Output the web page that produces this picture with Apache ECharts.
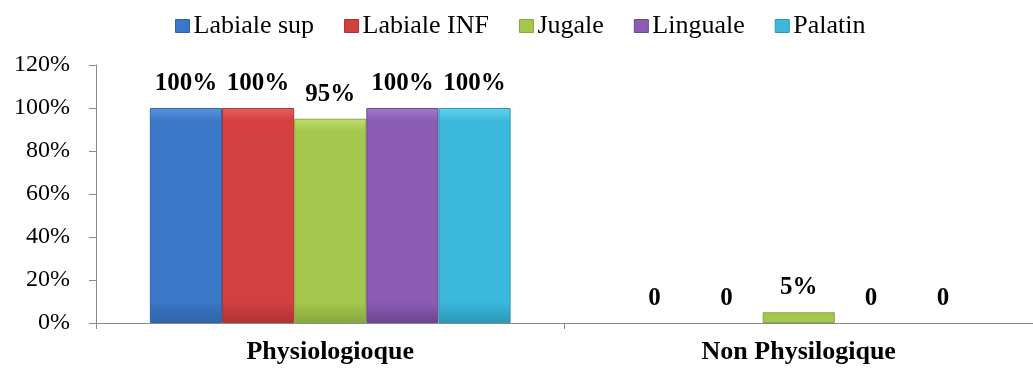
<!DOCTYPE html>
<html><head><meta charset="utf-8">
<script src="https://cdn.jsdelivr.net/npm/echarts@6/dist/echarts.min.js"></script>
<style>html,body{margin:0;padding:0;background:#fff}#c{width:1033px;height:369px}</style>
</head><body><div id="c"></div>
<script>
const categories = ['Physiologioque', 'Non Physilogique'];
const seriesNames = ['Labiale sup', 'Labiale INF', 'Jugale', 'Linguale', 'Palatin'];
const labialeSup = [100, 0];
const labialeInf = [100, 0];
const jugale = [95, 5];
const linguale = [100, 0];
const palatin = [100, 0];
const yTicks = [0, 20, 40, 60, 80, 100, 120];

const values = [labialeSup, labialeInf, jugale, linguale, palatin];
const colors = [
  ['#5c96e0', '#3a77c6', '#2f64a8'],
  ['#e66060', '#d43f3f', '#ae3333'],
  ['#c0de70', '#a3c84d', '#86a83d'],
  ['#a47ccb', '#8a5cb2', '#6c4790'],
  ['#66d2ef', '#3bb8dc', '#2c98b8']
];
const font = '"Liberation Serif", "Times New Roman", serif';

const chart = echarts.init(document.getElementById('c'), null, {renderer: 'canvas'});
chart.setOption({
  animation: false,
  textStyle: {fontFamily: font},
  legend: {
    top: 8, left: 170,
    itemWidth: 14, itemHeight: 13, itemGap: 30,
    icon: 'rect',
    textStyle: {fontFamily: font, fontSize: 26, color: '#000', padding: [0, 0, 0, -1]},
    data: seriesNames.map((n, i) => ({name: n, itemStyle: {color: colors[i][1], borderColor: colors[i][2], borderWidth: 1}}))
  },
  grid: {left: 96, right: -8, top: 65, bottom: 46},
  xAxis: {
    type: 'category', data: categories,
    axisLine: {lineStyle: {color: '#888', width: 1}},
    axisTick: {show: true, length: 6, lineStyle: {color: '#888'}},
    axisLabel: {fontFamily: font, fontSize: 26, fontWeight: 'bold', color: '#000', margin: 16}
  },
  yAxis: {
    type: 'value', min: 0, max: 120, interval: 20,
    axisLine: {show: true, lineStyle: {color: '#888', width: 1}},
    axisTick: {show: true, length: 7, lineStyle: {color: '#888'}},
    splitLine: {show: false},
    axisLabel: {fontFamily: font, fontSize: 24, color: '#000', margin: 26,
      formatter: v => yTicks.includes(v) ? v + '%' : ''}
  },
  series: seriesNames.map((name, i) => ({
    name, type: 'bar',
    data: values[i].map(v => ({value: v, itemStyle: {borderWidth: v === 0 ? 0 : 1}})),
    barGap: '0%', barCategoryGap: '23%',
    itemStyle: {
      color: new echarts.graphic.LinearGradient(0, 0, 0, 1, [
        {offset: 0, color: colors[i][0]},
        {offset: 0.06, color: colors[i][1]},
        {offset: 0.9, color: colors[i][1]},
        {offset: 1, color: colors[i][2]}
      ]),
      borderColor: colors[i][2], borderWidth: 1
    },
    label: {
      show: true, position: 'top', distance: 12,
      fontFamily: font, fontSize: 25, fontWeight: 'bold', color: '#000',
      formatter: p => p.value === 0 ? '0' : p.value + '%'
    }
  }))
});
</script></body></html>
